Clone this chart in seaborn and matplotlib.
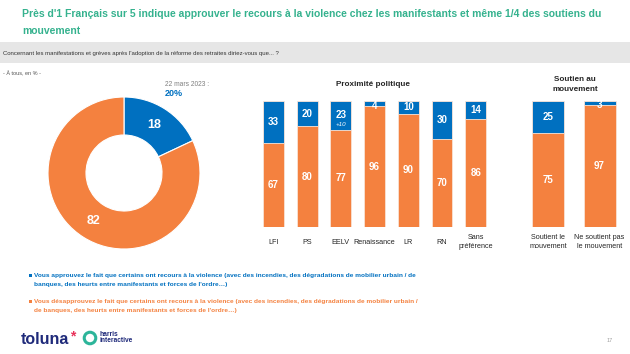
import math
import matplotlib
matplotlib.use("Agg")
import matplotlib.pyplot as plt
import seaborn as sns
import pandas as pd
from matplotlib.patches import Circle, Rectangle

# Data
donut_labels = ["Approuve", "Désapprouve"]
donut_values = [18, 82]

parties = ["LFI", "PS", "EELV", "Renaissance", "LR", "RN", "Sans\npréférence"]
parties_approve = [33, 20, 23, 4, 10, 30, 14]
parties_disapprove = [67, 80, 77, 96, 90, 70, 86]

support = ["Soutient le\nmouvement", "Ne soutient pas\nle mouvement"]
support_approve = [25, 3]
support_disapprove = [75, 97]

BLUE = "#0070C0"
ORANGE = "#F4813F"
GREEN = "#35B28E"

sns.set_theme(style="white")
plt.rcParams["font.family"] = ["Liberation Sans", "DejaVu Sans"]

W, H = 630, 354
fig = plt.figure(figsize=(W / 100, H / 100), dpi=100)
fig.patch.set_facecolor("white")


def px(x, y):
    return x / W, 1 - y / H


def box(x0, y0, x1, y1):
    # pixel box (top-left origin) -> figure rect
    return [x0 / W, 1 - y1 / H, (x1 - x0) / W, (y1 - y0) / H]


# Title
fig.text(*px(22, 14), "Près d'1 Français sur 5 indique approuver le recours à la violence chez les manifestants et même 1/4 des soutiens du",
         color=GREEN, fontsize=7.5, fontweight="bold", va="center")
fig.text(*px(22, 31), "mouvement", color=GREEN, fontsize=7.5, fontweight="bold", va="center")

# Question band
fig.patches.append(Rectangle(px(0, 63), 1, 21 / H, transform=fig.transFigure,
                             facecolor="#E6E6E6", edgecolor="none", zorder=0))
fig.text(*px(3, 53), "Concernant les manifestations et grèves après l'adoption de la réforme des retraites diriez-vous que... ?",
         color="#333333", fontsize=4.3, va="center")
fig.text(*px(3, 72), "- À tous, en % -", color="#555555", fontsize=4.0, va="center")

# Donut
ax_d = fig.add_axes(box(48, 97, 200, 249))
ax_d.pie(donut_values, colors=[BLUE, ORANGE], startangle=90, counterclock=False,
         radius=1, wedgeprops=dict(width=0.5, edgecolor="white", linewidth=0.8))
ax_d.set_xlim(-1, 1)
ax_d.set_ylim(-1, 1)
ax_d.set_aspect("equal")
ax_d.axis("off")
angle = 90
for v in donut_values:
    mid = angle - v * 3.6 / 2
    angle -= v * 3.6
    r = 0.75
    ax_d.text(r * math.cos(math.radians(mid)), r * math.sin(math.radians(mid)), str(v),
              color="white", fontsize=9, fontweight="bold", ha="center", va="center")

fig.text(*px(165, 84), "22 mars 2023 :", color="#7F7F7F", fontsize=4.8, va="center")
fig.text(*px(165, 94), "20%", color=BLUE, fontsize=6.5, fontweight="bold", va="center")


def stacked(ax, cats, approve, disapprove, width):
    df = pd.DataFrame({"cat": cats, "total": [a + d for a, d in zip(approve, disapprove)],
                       "dis": disapprove})
    sns.barplot(data=df, x="cat", y="total", color=BLUE, width=width, ax=ax,
                edgecolor="#FBE5D8", linewidth=0.6, saturation=1)
    sns.barplot(data=df, x="cat", y="dis", color=ORANGE, width=width, ax=ax,
                edgecolor="#FBE5D8", linewidth=0.6, saturation=1)
    ax.set_xlim(-0.5, len(cats) - 0.5)
    ax.set_ylim(0, 100)
    ax.axis("off")
    for i, (a, d) in enumerate(zip(approve, disapprove)):
        ax.text(i, d / 2, str(d), color="white", fontsize=7, fontweight="bold",
                ha="center", va="center")
        ya = d + a / 2 if a >= 8 else d - 0.3
        ax.text(i, ya, str(a), color="white", fontsize=7, fontweight="bold",
                ha="center", va="center")
        ax.text(i, -12, cats[i], color="#262626", fontsize=5.2, ha="center", va="center",
                linespacing=1.25, clip_on=False)


# Proximité politique
ax_p = fig.add_axes(box(256.6, 101, 492.6, 227))
stacked(ax_p, parties, parties_approve, parties_disapprove, 0.62)
ax_p.text(2, 81, "+10", color="white", fontsize=4.5, style="italic",
          ha="center", va="center")
fig.text(*px(373, 85), "Proximité politique", color="#262626", fontsize=5.9,
         fontweight="bold", ha="center", va="center")

# Soutien au mouvement
ax_s = fig.add_axes(box(522.3, 101, 625.3, 227))
stacked(ax_s, support, support_approve, support_disapprove, 0.62)
fig.text(*px(575, 84.5), "Soutien au\nmouvement", color="#262626", fontsize=5.9,
         fontweight="bold", ha="center", va="center", linespacing=1.6)

# Legend texts
leg = [
    (BLUE, 275, "Vous approuvez le fait que certains ont recours à la violence (avec des incendies, des dégradations de mobilier urbain / de",
     "banques, des heurts entre manifestants et forces de l'ordre…)"),
    (ORANGE, 301, "Vous désapprouvez le fait que certains ont recours à la violence (avec des incendies, des dégradations de mobilier urbain /",
     "de banques, des heurts entre manifestants et forces de l'ordre…)"),
]
for col, y, l1, l2 in leg:
    fig.patches.append(Rectangle(px(29, y + 1.5), 3 / W, 3 / H, transform=fig.transFigure,
                                 facecolor=col, edgecolor="none"))
    fig.text(*px(34, y), l1, color=col, fontsize=4.65, fontweight="bold", va="center")
    fig.text(*px(34, y + 9.5), l2, color=col, fontsize=4.65, fontweight="bold", va="center")

# Logos
fig.text(*px(21, 339), "toluna", color="#1F2A7A", fontsize=11.5, fontweight="bold", va="center")
fig.text(*px(70, 336), "*", color="#E8325A", fontsize=10, fontweight="bold", va="center")
ax_logo = fig.add_axes(box(82, 330, 98, 346))
ax_logo.add_patch(Circle((0, 0), 0.72, facecolor="none", edgecolor="#2DB59A", linewidth=2.2))
ax_logo.set_xlim(-1, 1)
ax_logo.set_ylim(-1, 1)
ax_logo.set_aspect("equal")
ax_logo.axis("off")
fig.text(*px(99, 334), "harris", color="#1F2A7A", fontsize=4.8, fontweight="bold", va="center")
fig.text(*px(99, 341), "interactive", color="#1F2A7A", fontsize=4.8, fontweight="bold", va="center")
fig.text(*px(607, 341), "17", color="#A0A0A0", fontsize=4, va="center")

fig.savefig("out.png", dpi=100)
